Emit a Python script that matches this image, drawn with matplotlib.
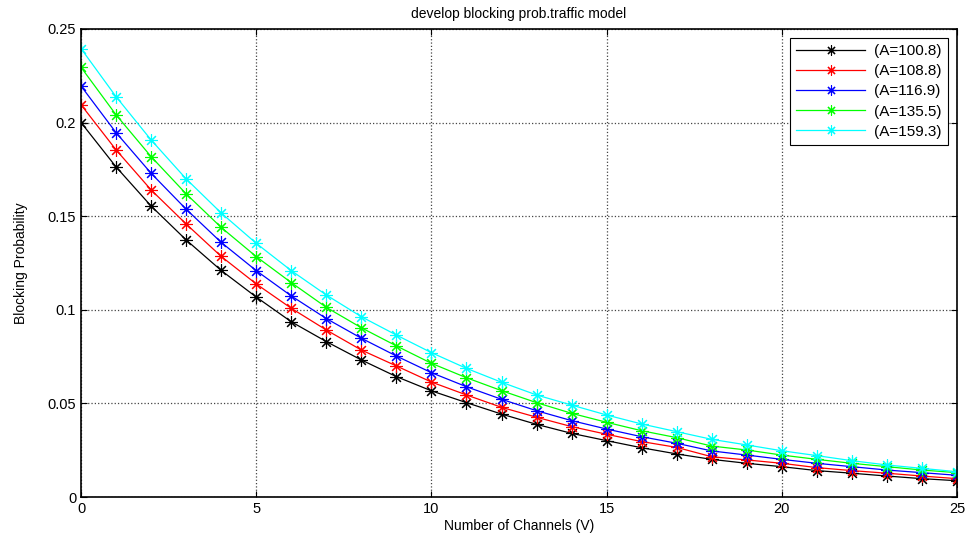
import matplotlib
matplotlib.use("Agg")
import matplotlib.pyplot as plt
import numpy as np

plt.rcParams['font.family'] = ['Liberation Sans', 'DejaVu Sans']

channels = list(range(26))
labels = ["(A=100.8)", "(A=108.8)", "(A=116.9)", "(A=135.5)", "(A=159.3)"]
colors = ["black", "red", "blue", "#00ff00", "cyan"]

a1008 = [0.2000, 0.1763, 0.1554, 0.1373, 0.1210, 0.1068, 0.0936, 0.0830, 0.0732, 0.0643,
         0.0567, 0.0504, 0.0443, 0.0388, 0.0340, 0.0301, 0.0263, 0.0230, 0.0201, 0.0180,
         0.0162, 0.0141, 0.0127, 0.0112, 0.0098, 0.0087]
a1088 = [0.2095, 0.1854, 0.1640, 0.1458, 0.1285, 0.1138, 0.1008, 0.0892, 0.0785, 0.0700,
         0.0614, 0.0545, 0.0479, 0.0426, 0.0376, 0.0335, 0.0296, 0.0265, 0.0215, 0.0198,
         0.0180, 0.0157, 0.0141, 0.0127, 0.0112, 0.0098]
a1169 = [0.2195, 0.1946, 0.1729, 0.1537, 0.1360, 0.1209, 0.1074, 0.0953, 0.0848, 0.0753,
         0.0664, 0.0589, 0.0522, 0.0461, 0.0408, 0.0363, 0.0322, 0.0287, 0.0246, 0.0224,
         0.0201, 0.0180, 0.0162, 0.0144, 0.0130, 0.0116]
a1355 = [0.2295, 0.2041, 0.1818, 0.1619, 0.1440, 0.1284, 0.1145, 0.1013, 0.0904, 0.0807,
         0.0714, 0.0637, 0.0568, 0.0504, 0.0447, 0.0399, 0.0354, 0.0317, 0.0272, 0.0251,
         0.0224, 0.0201, 0.0180, 0.0162, 0.0144, 0.0130]
a1593 = [0.2395, 0.2138, 0.1907, 0.1699, 0.1517, 0.1355, 0.1209, 0.1079, 0.0963, 0.0865,
         0.0771, 0.0687, 0.0613, 0.0545, 0.0491, 0.0438, 0.0390, 0.0349, 0.0308, 0.0278,
         0.0247, 0.0221, 0.0194, 0.0171, 0.0153, 0.0135]
series = [a1008, a1088, a1169, a1355, a1593]

fig = plt.figure(figsize=(9.66, 5.38), dpi=100)
ax = fig.add_axes([0.0839, 0.0762, 0.9068, 0.8700])

for ys, c, lab in zip(series, colors, labels):
    ax.plot(channels, ys, color=c, lw=0.9, marker=(8, 2, 0), markersize=9,
            markeredgewidth=0.8, label=lab)

ax.set_xlim(0, 25)
ax.set_ylim(0, 0.25)
ax.set_xticks([0, 5, 10, 15, 20, 25])
ax.set_yticks([0, 0.05, 0.1, 0.15, 0.2, 0.25])
ax.set_yticklabels(["0", "0.05", "0.1", "0.15", "0.2", "0.25"])
ax.tick_params(direction='in', top=True, right=True, labelsize=10.5, length=4)
ax.grid(True, linestyle=':', color='#444444', lw=0.9)
for s in ax.spines.values():
    s.set_linewidth(1.2)

ax.set_xlabel("Number of Channels (V)", fontsize=10, labelpad=2)
ax.set_ylabel("Blocking Probability", fontsize=10, labelpad=14)
ax.set_title("develop blocking prob.traffic model", fontsize=10, pad=8)

leg = ax.legend(loc='upper right', fontsize=11, frameon=True, fancybox=False,
                edgecolor='black', framealpha=1, handlelength=4.5,
                borderaxespad=0.6, labelspacing=0.4, handletextpad=0.6,
                markerscale=0.8)
leg.get_frame().set_linewidth(0.8)

fig.savefig("out.png", dpi=100)
